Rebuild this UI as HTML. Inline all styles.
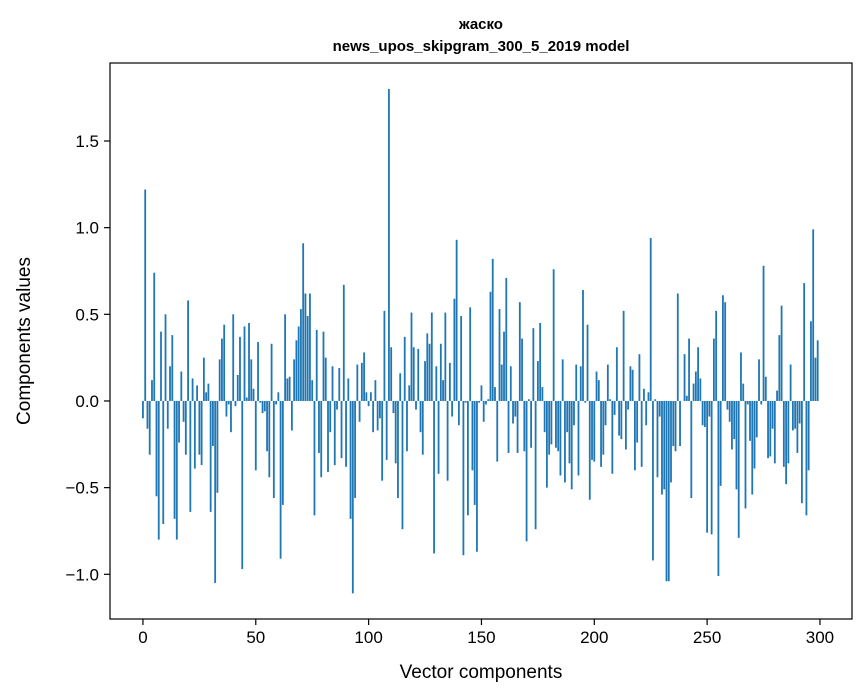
<!DOCTYPE html>
<html><head><meta charset="utf-8"><style>
body{margin:0;background:#fff;}
svg{display:block;font-family:"Liberation Sans","DejaVu Sans",sans-serif;}
</style></head><body>
<svg id="chart" width="867" height="696" xmlns="http://www.w3.org/2000/svg">
<rect width="867" height="696" fill="#fff"/>
<text x="481" y="29" text-anchor="middle" font-size="15" font-weight="bold">жаско</text>
<text x="481" y="51" text-anchor="middle" font-size="15" font-weight="bold">news_upos_skipgram_300_5_2019 model</text>
<g id="bars"></g>
<g id="xticks"></g>
<g id="yticks"></g>
<rect x="110" y="63" width="742" height="556" fill="none" stroke="#000" stroke-width="1.2"/>
<text x="481" y="678" text-anchor="middle" font-size="19">Vector components</text>
<text transform="translate(30,341) rotate(-90)" text-anchor="middle" font-size="19">Components values</text>
</svg>
<script>
const values = [
-0.10,1.22,-0.16,-0.31,0.12,0.74,-0.55,-0.80,0.40,-0.71,
0.50,-0.16,0.20,0.38,-0.68,-0.80,-0.24,0.17,-0.12,-0.31,
0.58,-0.64,0.13,-0.39,0.09,-0.31,-0.37,0.25,0.05,0.10,
-0.64,-0.26,-1.05,-0.53,0.24,0.36,0.44,-0.09,-0.02,-0.18,
0.50,-0.03,0.15,0.37,-0.97,0.43,0.02,0.45,0.24,0.07,
-0.40,0.34,-0.01,-0.07,-0.06,-0.29,-0.44,0.33,-0.56,-0.02,
0.05,-0.91,-0.60,0.50,0.13,0.14,-0.17,0.24,0.35,0.43,
0.53,0.91,0.62,0.49,0.62,0.12,-0.66,0.41,-0.30,-0.44,
0.40,0.25,-0.41,-0.18,0.20,-0.37,-0.05,0.19,-0.33,0.67,
-0.38,0.13,-0.68,-1.11,-0.56,0.21,-0.12,0.22,0.28,0.05,
-0.03,0.05,-0.18,0.12,-0.17,-0.10,-0.46,0.52,-0.34,1.80,
0.31,-0.07,-0.36,-0.56,0.16,-0.74,0.37,-0.29,0.09,0.51,
0.31,-0.05,0.30,-0.18,-0.31,0.23,0.39,0.33,0.51,-0.88,
0.20,-0.42,0.33,0.12,0.51,-0.46,0.22,-0.09,0.59,0.93,
-0.14,0.49,-0.89,-0.01,-0.66,0.54,-0.40,-0.60,-0.87,-0.01,
0.09,-0.12,-0.02,0.01,0.63,0.82,0.08,-0.35,0.53,0.21,
0.40,0.71,-0.30,0.20,-0.13,-0.09,-0.30,0.57,0.36,-0.29,
-0.81,0.01,-0.27,0.42,-0.74,0.23,0.45,0.08,-0.18,-0.50,
-0.31,-0.25,0.76,-0.27,-0.29,-0.43,0.24,-0.47,-0.18,-0.36,
-0.51,-0.14,0.21,-0.43,0.20,0.64,-0.01,0.44,-0.57,-0.34,
-0.35,0.17,0.12,-0.38,-0.31,-0.14,0.21,0.01,-0.42,-0.08,
0.31,-0.20,-0.22,0.52,-0.28,-0.05,0.20,0.18,-0.40,-0.24,
0.27,-0.38,0.07,-0.14,0.05,0.94,-0.92,0.01,-0.44,-0.09,
-0.54,-0.51,-1.04,-1.04,-0.47,-0.26,-0.29,0.62,-0.26,0.00,
0.27,0.03,0.36,-0.56,0.10,0.17,0.31,0.13,-0.14,-0.15,
-0.76,-0.09,-0.77,0.36,0.52,-1.01,-0.49,0.61,0.57,-0.05,
-0.12,-0.28,-0.22,-0.51,-0.79,0.28,0.10,-0.62,-0.02,-0.23,
-0.54,-0.39,-0.21,0.24,-0.02,0.78,0.14,-0.33,-0.32,-0.16,
-0.36,0.06,0.38,0.55,-0.38,-0.48,-0.36,0.21,-0.17,-0.16,
-0.30,-0.13,-0.59,0.68,-0.66,-0.40,0.46,0.99,0.25,0.35
];
const xTickValues = [0,50,100,150,200,250,300];
const yTickValues = [-1.0,-0.5,0.0,0.5,1.0,1.5];
const yTickLabels = ["\u22121.0","\u22120.5","0.0","0.5","1.0","1.5"];

const NS = "http://www.w3.org/2000/svg";
const X0 = 110, X1 = 852, Y0 = 63, Y1 = 619;
const xMin = -14.6, xMax = 314.2, yMin = -1.258, yMax = 1.950;
function xs(v){ return X0 + (v - xMin) / (xMax - xMin) * (X1 - X0); }
function ys(v){ return Y1 - (v - yMin) / (yMax - yMin) * (Y1 - Y0); }

const barsG = document.getElementById('bars');
const bw = (xs(1) - xs(0)) * 0.8;
values.forEach((v, i) => {
  const r = document.createElementNS(NS, 'rect');
  
  
  const top = Math.min(ys(v), ys(0));
  r.setAttribute('x', xs(i) - bw / 2);
  r.setAttribute('y', top);
  r.setAttribute('width', bw);
  r.setAttribute('height', Math.abs(ys(v) - ys(0)));
  r.setAttribute('fill', '#1f77b4');
  barsG.appendChild(r);
});

const xg = document.getElementById('xticks');
xTickValues.forEach(t => {
  const l = document.createElementNS(NS, 'line');
  
  
  l.setAttribute('x1', xs(t)); l.setAttribute('x2', xs(t));
  l.setAttribute('y1', Y1); l.setAttribute('y2', Y1 + 6);
  l.setAttribute('stroke', '#000'); l.setAttribute('stroke-width', '1.2');
  xg.appendChild(l);
  const tx = document.createElementNS(NS, 'text');
  
  
  tx.setAttribute('x', xs(t)); tx.setAttribute('y', Y1 + 24);
  tx.setAttribute('text-anchor', 'middle'); tx.setAttribute('font-size', '17');
  tx.textContent = String(t);
  xg.appendChild(tx);
});

const yg = document.getElementById('yticks');
yTickValues.forEach((t, k) => {
  const l = document.createElementNS(NS, 'line');
  
  
  l.setAttribute('x1', X0 - 6); l.setAttribute('x2', X0);
  l.setAttribute('y1', ys(t)); l.setAttribute('y2', ys(t));
  l.setAttribute('stroke', '#000'); l.setAttribute('stroke-width', '1.2');
  yg.appendChild(l);
  const tx = document.createElementNS(NS, 'text');
  
  
  tx.setAttribute('x', X0 - 11); tx.setAttribute('y', ys(t) + 6);
  tx.setAttribute('text-anchor', 'end'); tx.setAttribute('font-size', '17');
  tx.textContent = yTickLabels[k];
  yg.appendChild(tx);
});
</script>
</body></html>
